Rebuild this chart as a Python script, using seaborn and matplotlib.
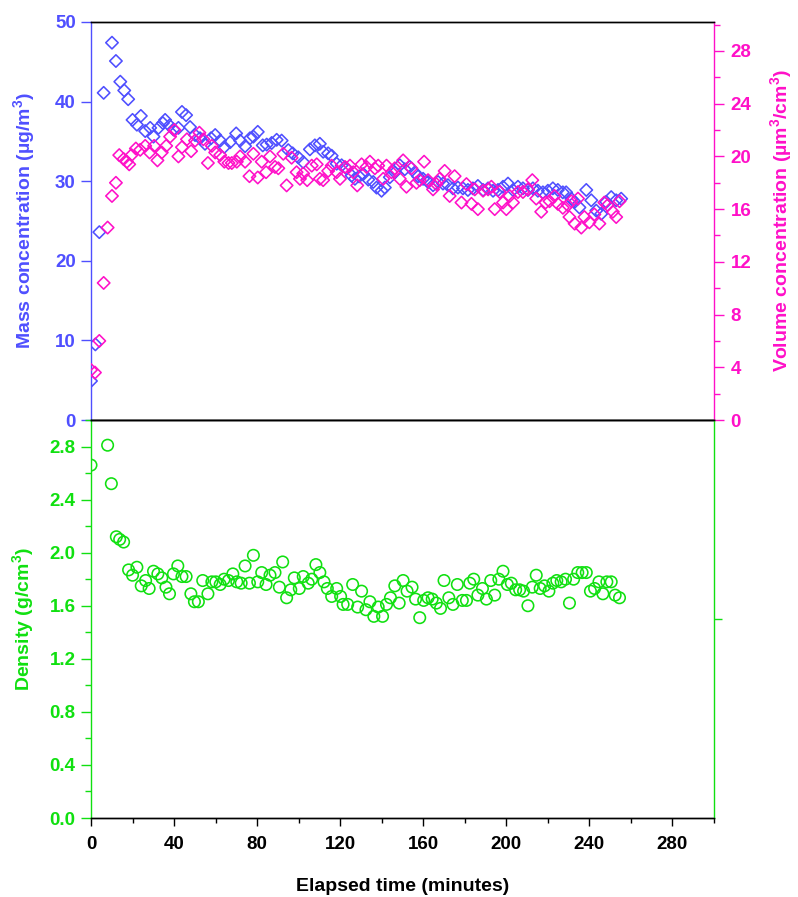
import matplotlib
matplotlib.use("Agg")
import matplotlib.pyplot as plt
import seaborn as sns
import pandas as pd
from matplotlib.ticker import MultipleLocator, FixedLocator, FormatStrFormatter, NullFormatter

# ---------------- data ----------------
mass_time = [0, 2.1, 4.0, 6.1, 10.1, 12.0, 14.1, 16.0, 17.9, 20.0, 22.1, 24.0,
             26.1, 28.5, 30.1, 32.5, 34.6, 35.7, 37.8, 39.7, 42.1, 43.8, 45.8, 47.7,
             50.1, 52.5, 54.9, 57.8, 59.8, 62.2, 64.2, 67.0, 69.9, 71.8, 74.2, 76.6,
             78.2, 80.3, 82.7, 84.6, 87.0, 89.4, 91.8, 95.0, 97.1, 99.8, 102.2, 105.4,
             107.8, 110.2, 111.8, 114.2, 115.9, 118.3, 120.7, 123.1, 125.5, 127.1, 129.1,
             131.1, 133.5, 135.9, 137.5, 139.9, 141.5, 143.9, 146.3, 148.7, 151.1, 153.5,
             155.9, 157.5, 159.9, 162.3, 164.7, 167.1, 169.5, 171.9, 174.3, 176.7, 179.1,
             181.5, 183.9, 186.3, 188.8, 191.2, 193.6, 196.0, 198.4, 200.8, 203.2, 205.6,
             208.0, 210.4, 212.8, 215.2, 217.6, 220.0, 222.4, 224.8, 227.2, 228.8, 231.3,
             232.9, 235.2, 238.5, 240.9, 243.3, 245.7, 248.1, 250.5, 252.9, 255.3]
mass_values = [4.9, 9.5, 23.6, 41.1, 47.4, 45.1, 42.5, 41.4, 40.3, 37.7, 37.1, 38.2,
               36.3, 36.7, 35.6, 36.7, 37.3, 37.7, 37.0, 36.5, 36.7, 38.7, 38.3, 36.8,
               35.8, 35.4, 34.7, 35.4, 35.8, 35.1, 34.3, 34.9, 36.0, 35.1, 34.4, 35.4,
               35.6, 36.2, 34.5, 34.6, 34.8, 35.2, 35.1, 33.9, 33.5, 33.0, 32.4, 34.0,
               34.5, 34.7, 33.7, 33.5, 33.2, 32.2, 32.0, 31.6, 30.7, 30.3, 30.6,
               30.9, 30.2, 29.9, 29.2, 28.8, 29.2, 30.5, 31.1, 32.0, 31.5, 31.8,
               31.1, 30.6, 30.3, 29.9, 29.5, 29.9, 29.7, 29.5, 29.1, 29.2, 29.1,
               28.9, 29.1, 29.4, 28.9, 29.1, 28.8, 28.9, 29.3, 29.7, 28.9, 29.3,
               29.1, 28.9, 29.1, 28.8, 28.6, 28.8, 29.1, 28.9, 28.6, 28.6, 27.8,
               27.4, 26.7, 28.9, 27.6, 26.3, 25.9, 27.4, 28.0, 27.6, 27.8]

vol_time = [0, 1.9, 4.0, 6.1, 8.0, 10.1, 12.0, 13.6, 15.7, 17.3, 18.4, 19.5, 21.6, 23.7,
            26.1, 28.2, 30.4, 32.0, 34.1, 36.2, 38.1, 40.2, 42.1, 43.8, 46.2, 48.2,
            50.1, 52.2, 54.1, 56.3, 58.2, 59.8, 62.2, 64.2, 66.2, 67.8, 70.2, 71.8,
            74.2, 76.3, 78.2, 80.3, 82.2, 84.3, 86.2, 88.6, 90.2, 92.6, 94.2, 96.6,
            99.0, 100.6, 102.2, 104.1, 106.3, 108.7, 110.2, 111.8, 114.2, 115.9, 118.3,
            119.9, 122.3, 124.7, 126.3, 128.2, 130.3, 132.7, 134.3, 136.7, 138.3, 140.7,
            142.3, 144.7, 146.3, 148.7, 150.3, 151.9, 154.3, 156.7, 158.3, 160.4, 162.3,
            164.7, 166.3, 167.9, 170.3, 172.7, 175.1, 178.4, 180.8, 183.2, 184.8, 186.3,
            188.8, 191.2, 192.8, 194.4, 196.8, 198.4, 200.0, 201.6, 203.2, 205.6, 208.0,
            210.4, 212.5, 214.4, 216.8, 218.9, 220.8, 223.2, 224.8, 227.2, 229.6, 230.4,
            231.3, 232.9, 234.5, 236.1, 237.6, 240.0, 242.4, 244.8, 247.2, 248.8, 251.3,
            252.9, 254.5]
vol_values = [3.8, 3.6, 6.0, 10.4, 14.6, 17.0, 18.0, 20.1, 19.8, 19.6, 19.4, 20.1, 20.6, 20.5,
              20.8, 20.3, 20.8, 19.7, 20.3, 20.8, 21.5, 22.0, 20.0, 20.7, 21.3, 20.4,
              21.2, 21.8, 21.3, 19.5, 20.8, 20.3, 20.1, 19.6, 19.5, 19.5, 19.6, 20.0,
              19.6, 18.5, 20.2, 18.4, 19.6, 18.8, 20.0, 19.2, 19.1, 20.2, 17.8, 19.9,
              18.8, 18.3, 18.7, 18.2, 19.3, 19.4, 18.3, 18.2, 18.9, 19.3, 18.8,
              18.3, 19.2, 19.3, 18.8, 17.8, 19.4, 19.2, 19.6, 19.1, 19.3, 18.3,
              19.3, 18.8, 19.1, 18.3, 19.7, 17.7, 19.1, 18.0, 18.2, 19.6, 18.2,
              17.5, 17.9, 18.3, 18.9, 17.0, 18.5, 16.5, 17.9, 16.4, 17.5, 16.0,
              17.4, 17.5, 17.7, 16.0, 17.3, 16.5, 16.0, 17.0, 16.5, 17.3, 17.3,
              17.5, 18.2, 16.8, 15.8, 16.5, 16.6, 17.0, 16.4, 16.1, 16.3, 15.4,
              16.6, 14.9, 16.8, 14.6, 15.4, 15.0, 15.6, 14.9, 16.5, 16.3, 15.8,
              15.4, 16.6]

dens_time = [0, 8.0, 9.8, 12.2, 13.8, 15.7, 18.1, 20.0, 22.1, 24.2, 26.3, 28.0, 30.1,
             32.2, 34.1, 36.1, 37.8, 39.7, 41.8, 43.8, 45.8, 48.1, 49.8, 51.7, 53.8,
             56.3, 58.2, 60.1, 62.2, 64.1, 66.2, 68.3, 70.2, 72.3, 74.2, 76.3, 78.2,
             80.3, 82.2, 84.3, 86.2, 88.6, 90.7, 92.3, 94.2, 96.2, 97.9, 100.3, 102.2,
             104.6, 106.3, 108.3, 110.2, 112.2, 113.8, 115.9, 118.3, 120.2, 121.4, 123.6,
             126.0, 128.4, 130.3, 132.4, 134.3, 136.2, 138.3, 140.4, 142.3, 144.2, 146.3,
             148.4, 150.3, 152.2, 154.6, 156.3, 158.3, 160.2, 162.3, 164.3, 166.3, 168.3,
             170.0, 172.3, 174.3, 176.4, 178.8, 180.8, 182.4, 184.3, 186.3, 188.5, 190.4,
             192.5, 194.4, 196.4, 198.4, 200.5, 202.4, 204.5, 206.4, 208.3, 210.4, 212.5,
             214.4, 216.3, 218.4, 220.5, 222.4, 224.3, 226.4, 228.5, 230.4, 232.4, 234.4,
             236.5, 238.5, 240.5, 242.5, 244.6, 246.5, 248.4, 250.5, 252.4, 254.5]
dens_values = [2.66, 2.81, 2.52, 2.12, 2.10, 2.08, 1.87, 1.83, 1.89, 1.75, 1.79, 1.73, 1.86,
               1.84, 1.81, 1.74, 1.69, 1.84, 1.90, 1.82, 1.82, 1.69, 1.63, 1.63, 1.79,
               1.69, 1.78, 1.78, 1.76, 1.80, 1.79, 1.84, 1.78, 1.77, 1.90, 1.77, 1.98,
               1.78, 1.85, 1.76, 1.83, 1.85, 1.74, 1.93, 1.66, 1.72, 1.81, 1.73, 1.82,
               1.77, 1.80, 1.91, 1.85, 1.78, 1.73, 1.67, 1.73, 1.67, 1.61, 1.61,
               1.76, 1.59, 1.71, 1.57, 1.63, 1.52, 1.59, 1.52, 1.61, 1.66, 1.75,
               1.62, 1.79, 1.71, 1.74, 1.65, 1.51, 1.64, 1.66, 1.65, 1.62, 1.58,
               1.79, 1.66, 1.61, 1.76, 1.64, 1.64, 1.77, 1.80, 1.68, 1.73, 1.65,
               1.79, 1.68, 1.80, 1.86, 1.76, 1.77, 1.72, 1.72, 1.71, 1.60, 1.74,
               1.83, 1.73, 1.75, 1.71, 1.77, 1.79, 1.78, 1.80, 1.62, 1.80, 1.85,
               1.85, 1.85, 1.71, 1.73, 1.78, 1.69, 1.78, 1.78, 1.68, 1.66]

x_ticks = [0, 40, 80, 120, 160, 200, 240, 280]
mass_ticks = [0, 10, 20, 30, 40, 50]
vol_ticks = [0, 4, 8, 12, 16, 20, 24, 28]
dens_ticks = [0.0, 0.4, 0.8, 1.2, 1.6, 2.0, 2.4, 2.8]

mass_df = pd.DataFrame({"time": mass_time, "mass": mass_values})
vol_df = pd.DataFrame({"time": vol_time, "volume": vol_values})
dens_df = pd.DataFrame({"time": dens_time, "density": dens_values})

# ---------------- style ----------------
BLUE = "#4F4FFF"
MAGENTA = "#FF10C8"
GREEN = "#10E010"

sns.set_theme(style="white")
plt.rcParams["font.family"] = ["Liberation Sans", "DejaVu Sans"]
plt.rcParams["font.weight"] = "bold"
plt.rcParams["mathtext.default"] = "regular"

fig = plt.figure(figsize=(7.98, 8.97), dpi=100)
W, H = 798.0, 897.0
ax_top = fig.add_axes([91 / W, (H - 420) / H, 623 / W, 398 / H])
ax_bot = fig.add_axes([91 / W, (H - 818) / H, 623 / W, 398 / H], sharex=ax_top)
ax_vol = ax_top.twinx()
ax_rb = ax_bot.twinx()

# ---------------- marks ----------------
sns.scatterplot(data=mass_df, x="time", y="mass", ax=ax_top, marker="D", s=40,
                facecolor="none", edgecolor=BLUE, linewidth=1.15, zorder=3)
sns.scatterplot(data=vol_df, x="time", y="volume", ax=ax_vol, marker="D", s=40,
                facecolor="none", edgecolor=MAGENTA, linewidth=1.15, zorder=3)
sns.scatterplot(data=dens_df, x="time", y="density", ax=ax_bot, marker="o", s=68,
                facecolor="none", edgecolor=GREEN, linewidth=1.15, zorder=3)

# ---------------- axes ----------------
ax_top.set_xlim(0, 300)
ax_top.set_ylim(0, 50)
ax_vol.set_ylim(0, 30.2)
ax_bot.set_ylim(0, 3.0)
ax_rb.set_ylim(0, 3.0)

for a in (ax_top, ax_bot, ax_vol, ax_rb):
    a.grid(False)
    for sp in a.spines.values():
        sp.set_linewidth(1.0)

ax_top.spines["top"].set_color("black")
ax_top.spines["bottom"].set_color("black")
ax_top.spines["left"].set_color(BLUE)
ax_top.spines["right"].set_visible(False)
ax_vol.spines["right"].set_color(MAGENTA)
ax_vol.spines["left"].set_visible(False)
ax_vol.spines["top"].set_color("black")
ax_vol.spines["bottom"].set_color("black")

ax_bot.spines["left"].set_color(GREEN)
ax_bot.spines["right"].set_visible(False)
ax_bot.spines["top"].set_color("black")
ax_bot.spines["bottom"].set_color("black")
ax_rb.spines["right"].set_color(GREEN)
ax_rb.spines["left"].set_visible(False)
ax_rb.spines["top"].set_color("black")
ax_rb.spines["bottom"].set_color("black")

LABEL_FS = 14
TICK_FS = 13.5

# x axis
ax_bot.xaxis.set_major_locator(FixedLocator(x_ticks))
ax_bot.xaxis.set_minor_locator(MultipleLocator(20))
ax_bot.tick_params(axis="x", which="major", direction="out", length=6, width=1.0,
                   bottom=True, colors="black", labelsize=TICK_FS, pad=7)
ax_bot.tick_params(axis="x", which="minor", direction="out", length=3.5, width=1.0,
                   bottom=True, colors="black")
for a in (ax_top, ax_vol, ax_rb):
    a.tick_params(axis="x", which="both", bottom=False, top=False, labelbottom=False)
for lab in ax_bot.get_xticklabels():
    lab.set_fontweight("bold")
ax_bot.set_xlabel("Elapsed time (minutes)", fontsize=LABEL_FS, fontweight="bold",
                  color="black", labelpad=18)

# mass axis
ax_top.yaxis.set_major_locator(FixedLocator(mass_ticks))
ax_top.tick_params(axis="y", which="major", direction="out", length=7, width=1.0,
                   left=True, colors=BLUE, labelsize=TICK_FS, pad=4)
ax_top.set_ylabel("Mass concentration (µg/m$^{3}$)", fontsize=LABEL_FS, fontweight="bold",
                  color=BLUE, labelpad=13)

# volume axis
ax_vol.yaxis.set_major_locator(FixedLocator(vol_ticks))
ax_vol.yaxis.set_minor_locator(MultipleLocator(2))
ax_vol.tick_params(axis="y", which="major", direction="out", length=7, width=1.0,
                   right=True, colors=MAGENTA, labelsize=TICK_FS, pad=5)
ax_vol.tick_params(axis="y", which="minor", direction="out", length=4, width=1.0,
                   right=True, colors=MAGENTA)
ax_vol.set_ylabel("Volume concentration (µm$^{3}$/cm$^{3}$)", fontsize=LABEL_FS,
                  fontweight="bold", color=MAGENTA, labelpad=12)

# density axis
ax_bot.yaxis.set_major_locator(FixedLocator(dens_ticks))
ax_bot.yaxis.set_minor_locator(MultipleLocator(0.2))
ax_bot.yaxis.set_major_formatter(FormatStrFormatter("%.1f"))
ax_bot.tick_params(axis="y", which="major", direction="out", length=7, width=1.0,
                   left=True, colors=GREEN, labelsize=TICK_FS, pad=4)
ax_bot.tick_params(axis="y", which="minor", direction="out", length=4, width=1.0,
                   left=True, colors=GREEN)
ax_bot.set_ylabel("Density (g/cm$^{3}$)", fontsize=LABEL_FS, fontweight="bold",
                  color=GREEN, labelpad=10)

ax_rb.yaxis.set_major_locator(FixedLocator([1.5]))
ax_rb.yaxis.set_major_formatter(NullFormatter())
ax_rb.tick_params(axis="y", which="major", direction="out", length=6, width=1.0,
                  right=True, colors=GREEN)
ax_rb.set_ylabel("")

for a in (ax_top, ax_vol, ax_bot):
    for lab in a.get_yticklabels():
        lab.set_fontweight("bold")

for a in (ax_top, ax_vol, ax_bot, ax_rb):
    leg = a.get_legend()
    if leg is not None:
        leg.remove()

fig.savefig("out.png", dpi=100)
